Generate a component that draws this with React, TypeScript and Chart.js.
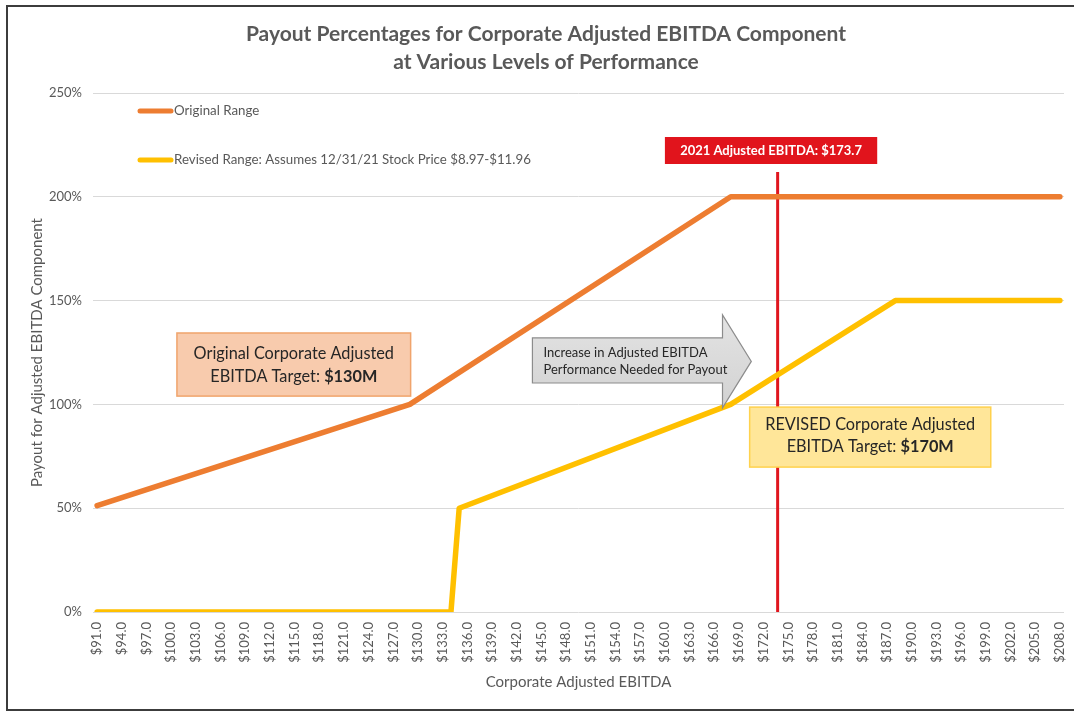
import React, { useEffect, useRef } from "react";
import { Chart, registerables } from "chart.js";

Chart.register(...registerables);

const FONT = "Lato, 'Open Sans', sans-serif";
const TEXT = "#595959";
const DARK = "#262626";
const ORANGE = "#ED7D31";
const YELLOW = "#FFC000";
const RED = "#E0161E";

// ---- data ----
const titleLines = [
  "Payout Percentages for Corporate Adjusted EBITDA Component",
  "at Various Levels of Performance",
];
const xAxisTitle = "Corporate Adjusted EBITDA";
const yAxisTitle = "Payout for Adjusted EBITDA Component";
const seriesNames = [
  "Original Range",
  "Revised Range: Assumes 12/31/21 Stock Price $8.97-$11.96",
];
const xTickValues = [
  91, 94, 97, 100, 103, 106, 109, 112, 115, 118, 121, 124, 127, 130, 133, 136,
  139, 142, 145, 148, 151, 154, 157, 160, 163, 166, 169, 172, 175, 178, 181,
  184, 187, 190, 193, 196, 199, 202, 205, 208,
];
const xTickLabels = [
  "$91.0", "$94.0", "$97.0", "$100.0", "$103.0", "$106.0", "$109.0", "$112.0",
  "$115.0", "$118.0", "$121.0", "$124.0", "$127.0", "$130.0", "$133.0",
  "$136.0", "$139.0", "$142.0", "$145.0", "$148.0", "$151.0", "$154.0",
  "$157.0", "$160.0", "$163.0", "$166.0", "$169.0", "$172.0", "$175.0",
  "$178.0", "$181.0", "$184.0", "$187.0", "$190.0", "$193.0", "$196.0",
  "$199.0", "$202.0", "$205.0", "$208.0",
];
const yTickValues = [0, 50, 100, 150, 200, 250];
const yTickLabels = ["0%", "50%", "100%", "150%", "200%", "250%"];

// breakpoints of the two payout curves (EBITDA $M, payout %)
const originalEbitda = [91, 129, 168, 208];
const originalPayout = [51.25, 100, 200, 200];
const revisedEbitda = [91, 134, 135, 168, 188, 208];
const revisedPayout = [0, 0, 50, 100, 150, 150];

const actualEbitda = 173.7;
const actualLabel = "2021 Adjusted EBITDA: $173.7";

const originalNote = [
  [{ t: "Original Corporate Adjusted", b: false }],
  [{ t: "EBITDA Target: ", b: false }, { t: "$130M", b: true }],
];
const revisedNote = [
  [{ t: "REVISED Corporate Adjusted", b: false }],
  [{ t: "EBITDA Target: ", b: false }, { t: "$170M", b: true }],
];
const arrowNote = ["Increase in Adjusted EBITDA", "Performance Needed for Payout"];

// annotation anchors in data units ($M, %)
const originalBox = { x0: 100.7, x1: 129.1, y0: 134.4, y1: 104.0 };
const revisedBox = { x0: 170.3, x1: 199.6, y0: 98.7, y1: 69.8 };
const redBox = { x0: 160.0, x1: 185.8, y0: 228.8, y1: 215.8 };
const redLineTop = 211.9;
const arrowShape = { left: 143.9, neck: 167.0, tip: 170.5, bodyTop: 132.0, bodyBottom: 110.3, headTop: 143.1, headBottom: 98.3 };

type Seg = { t: string; b: boolean };

function drawRich(ctx: CanvasRenderingContext2D, segs: Seg[], cx: number, cy: number, size: number) {
  let total = 0;
  const widths = segs.map((s) => {
    ctx.font = `${s.b ? "bold " : ""}${size}px ${FONT}`;
    const w = ctx.measureText(s.t).width;
    total += w;
    return w;
  });
  let x = cx - total / 2;
  ctx.textAlign = "left";
  ctx.textBaseline = "middle";
  segs.forEach((s, i) => {
    ctx.font = `${s.b ? "bold " : ""}${size}px ${FONT}`;
    ctx.fillText(s.t, x, cy);
    x += widths[i];
  });
}

const annotationPlugin = {
  id: "annotations",
  beforeDatasetsDraw(chart: any) {
    const { ctx, scales } = chart;
    const xs = scales.x, ys = scales.y;
    const x = xs.getPixelForValue(actualEbitda);
    ctx.save();
    ctx.strokeStyle = RED;
    ctx.lineWidth = 3;
    ctx.beginPath();
    ctx.moveTo(x, ys.getPixelForValue(redLineTop));
    ctx.lineTo(x, ys.getPixelForValue(0));
    ctx.stroke();
    ctx.restore();
  },
  afterDatasetsDraw(chart: any) {
    const { ctx, scales } = chart;
    const xs = scales.x, ys = scales.y;
    const X = (v: number) => xs.getPixelForValue(v);
    const Y = (v: number) => ys.getPixelForValue(v);
    ctx.save();

    // red label
    {
      const x0 = X(redBox.x0), x1 = X(redBox.x1), y0 = Y(redBox.y0), y1 = Y(redBox.y1);
      ctx.fillStyle = "#E1141C";
      ctx.fillRect(x0, y0, x1 - x0, y1 - y0);
      ctx.fillStyle = "#FFFFFF";
      drawRich(ctx, [{ t: actualLabel, b: true }], (x0 + x1) / 2, (y0 + y1) / 2 + 0.5, 13);
    }

    // orange note
    {
      const x0 = X(originalBox.x0), x1 = X(originalBox.x1), y0 = Y(originalBox.y0), y1 = Y(originalBox.y1);
      ctx.fillStyle = "#F8CBAD";
      ctx.fillRect(x0, y0, x1 - x0, y1 - y0);
      ctx.strokeStyle = "#F0A46C";
      ctx.lineWidth = 1.5;
      ctx.strokeRect(x0, y0, x1 - x0, y1 - y0);
      ctx.fillStyle = DARK;
      const cy = (y0 + y1) / 2;
      drawRich(ctx, originalNote[0], (x0 + x1) / 2, cy - 11, 16.3);
      drawRich(ctx, originalNote[1], (x0 + x1) / 2, cy + 12, 16.3);
    }

    // arrow
    {
      const a = arrowShape;
      ctx.beginPath();
      ctx.moveTo(X(a.left), Y(a.bodyTop));
      ctx.lineTo(X(a.neck), Y(a.bodyTop));
      ctx.lineTo(X(a.neck), Y(a.headTop));
      ctx.lineTo(X(a.tip), (Y(a.headTop) + Y(a.headBottom)) / 2);
      ctx.lineTo(X(a.neck), Y(a.headBottom));
      ctx.lineTo(X(a.neck), Y(a.bodyBottom));
      ctx.lineTo(X(a.left), Y(a.bodyBottom));
      ctx.closePath();
      const g = ctx.createLinearGradient(0, Y(a.headTop), 0, Y(a.headBottom));
      g.addColorStop(0, "#E3E3E3");
      g.addColorStop(1, "#D2D2D2");
      ctx.fillStyle = g;
      ctx.fill();
      ctx.strokeStyle = "#8C8C8C";
      ctx.lineWidth = 1.2;
      ctx.stroke();
      ctx.fillStyle = DARK;
      ctx.font = `13px ${FONT}`;
      ctx.textAlign = "left";
      ctx.textBaseline = "middle";
      const cy = (Y(a.bodyTop) + Y(a.bodyBottom)) / 2;
      ctx.fillText(arrowNote[0], X(a.left) + 11, cy - 8);
      ctx.fillText(arrowNote[1], X(a.left) + 11, cy + 9);
    }

    // yellow note
    {
      const x0 = X(revisedBox.x0), x1 = X(revisedBox.x1), y0 = Y(revisedBox.y0), y1 = Y(revisedBox.y1);
      ctx.fillStyle = "#FFE699";
      ctx.fillRect(x0, y0, x1 - x0, y1 - y0);
      ctx.strokeStyle = "#FFD24D";
      ctx.lineWidth = 1.5;
      ctx.strokeRect(x0, y0, x1 - x0, y1 - y0);
      ctx.fillStyle = DARK;
      const cy = (y0 + y1) / 2;
      drawRich(ctx, revisedNote[0], (x0 + x1) / 2, cy - 12, 16.3);
      drawRich(ctx, revisedNote[1], (x0 + x1) / 2, cy + 10, 16.3);
    }

    // legend inside plot
    {
      const area = chart.chartArea;
      chart.data.datasets.forEach((ds: any, i: number) => {
        const y = area.top + 18 + i * 49;
        const lx = area.left + 47;
        ctx.strokeStyle = ds.borderColor;
        ctx.lineWidth = 5;
        ctx.lineCap = "round";
        ctx.beginPath();
        ctx.moveTo(lx, y);
        ctx.lineTo(lx + 31, y);
        ctx.stroke();
        ctx.fillStyle = TEXT;
        ctx.font = `13.3px ${FONT}`;
        ctx.textAlign = "left";
        ctx.textBaseline = "middle";
        ctx.fillText(ds.label, lx + 34, y);
      });
    }
    ctx.restore();
  },
};

export default function App() {
  const ref = useRef<HTMLCanvasElement | null>(null);
  useEffect(() => {
    if (!ref.current) return;
    const chart = new Chart(ref.current, {
      type: "line",
      data: {
        datasets: [
          {
            label: seriesNames[0],
            data: originalEbitda.map((x, i) => ({ x, y: originalPayout[i] })),
            borderColor: ORANGE,
            backgroundColor: ORANGE,
            borderWidth: 5.5,
            pointRadius: 0,
            borderCapStyle: "round",
            borderJoinStyle: "round",
            tension: 0,
          },
          {
            label: seriesNames[1],
            data: revisedEbitda.map((x, i) => ({ x, y: revisedPayout[i] })),
            borderColor: YELLOW,
            backgroundColor: YELLOW,
            borderWidth: 5.5,
            pointRadius: 0,
            borderCapStyle: "round",
            borderJoinStyle: "round",
            tension: 0,
          },
        ],
      },
      options: {
        animation: false,
        responsive: false,
        devicePixelRatio: 1,
        layout: { padding: { left: 28, right: 10, top: 0, bottom: 20 } },
        plugins: {
          legend: { display: false },
          tooltip: { enabled: false },
          title: {
            display: true,
            text: titleLines,
            color: TEXT,
            font: { family: FONT, size: 21, weight: "bold", lineHeight: 1.3 },
            padding: { top: 21, bottom: 17.4 },
          },
        },
        scales: {
          x: {
            type: "linear",
            min: 90.5,
            max: 208.5,
            afterBuildTicks: (s: any) => {
              s.ticks = xTickValues.map((v) => ({ value: v }));
            },
            afterFit: (s: any) => {
              s.height = 79;
              s.paddingLeft = 0;
              s.paddingRight = 0;
            },
            grid: { display: false, drawTicks: false },
            border: { display: false },
            ticks: {
              autoSkip: false,
              minRotation: 90,
              maxRotation: 90,
              padding: 10,
              color: TEXT,
              font: { family: FONT, size: 13 },
              callback: (v: any) => {
                const i = xTickValues.indexOf(Number(v));
                return i >= 0 ? xTickLabels[i] : "";
              },
            },
            title: {
              display: true,
              text: xAxisTitle,
              color: TEXT,
              font: { family: FONT, size: 15 },
              padding: { top: 0, bottom: 0 },
            },
          },
          y: {
            min: 0,
            max: 250,
            afterBuildTicks: (s: any) => {
              s.ticks = yTickValues.map((v) => ({ value: v }));
            },
            afterFit: (s: any) => {
              s.width = 65;
            },
            grid: { color: "#D9D9D9", lineWidth: 1, drawTicks: false },
            border: { display: false },
            ticks: {
              padding: 11,
              color: TEXT,
              font: { family: FONT, size: 13 },
              callback: (v: any) => {
                const i = yTickValues.indexOf(Number(v));
                return i >= 0 ? yTickLabels[i] : "";
              },
            },
            title: {
              display: true,
              text: yAxisTitle,
              color: TEXT,
              font: { family: FONT, size: 15 },
              padding: { top: 0, bottom: 0 },
            },
          },
        },
      } as any,
      plugins: [annotationPlugin],
    });
    return () => chart.destroy();
  }, []);

  return (
    <div style={{ position: "fixed", left: 0, top: 0, width: 1074, height: 711, background: "#fff", overflow: "hidden" }}>
      <canvas ref={ref} width={1074} height={711} style={{ position: "absolute", left: 0, top: 0, width: 1074, height: 711 }} />
      <div
        style={{
          position: "absolute",
          left: 6,
          top: 5,
          width: 1090,
          height: 702,
          border: "2px solid #3C3C3C",
          pointerEvents: "none",
        }}
      />
    </div>
  );
}
